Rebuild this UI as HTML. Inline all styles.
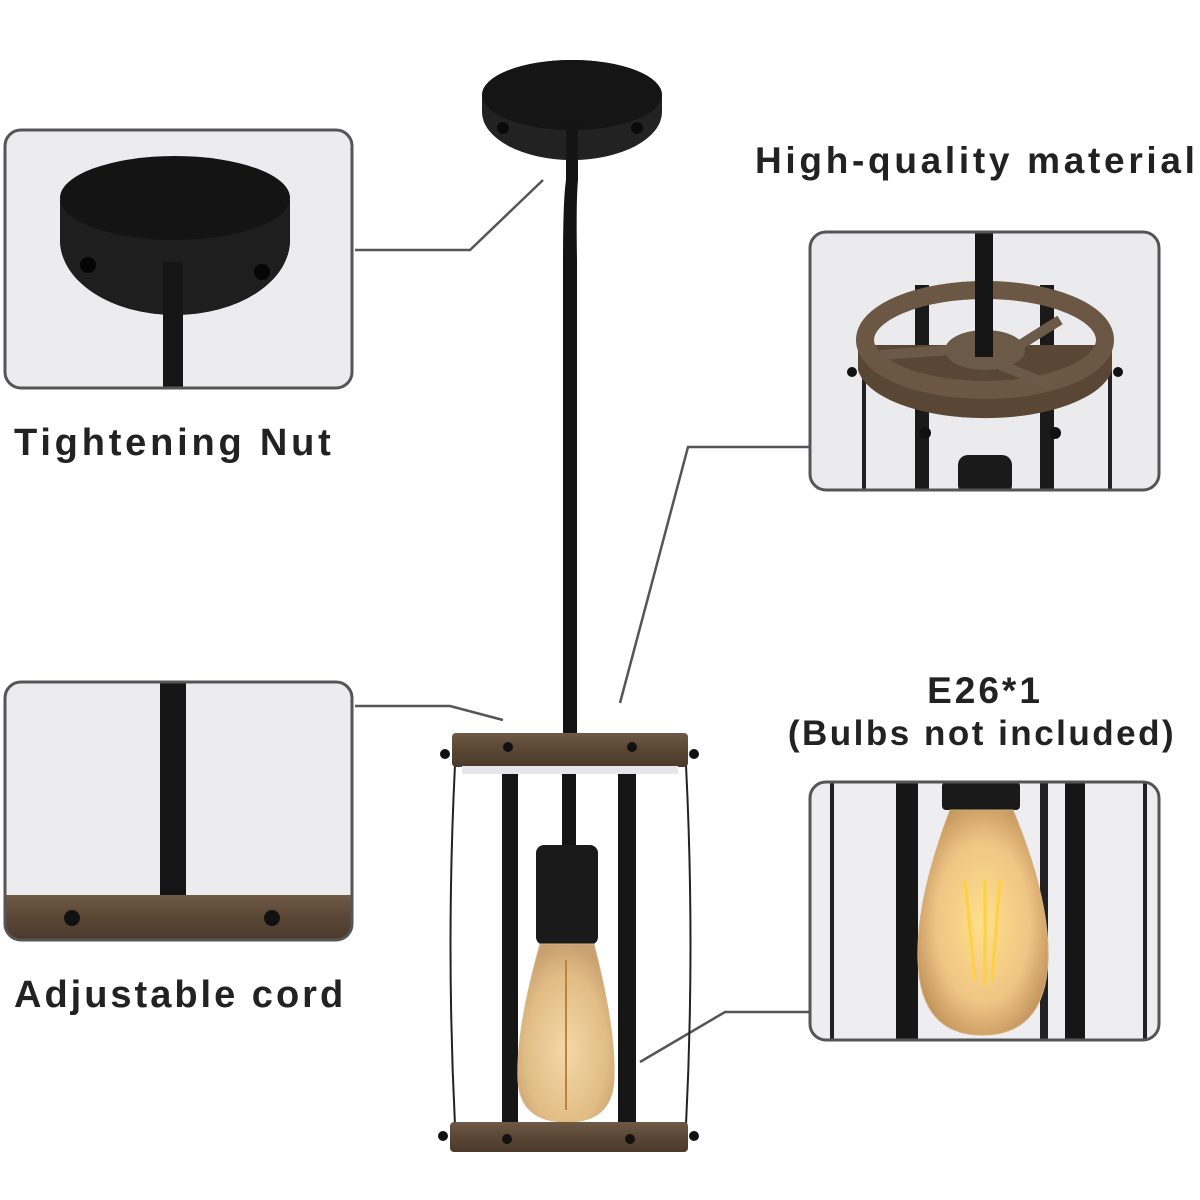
<!DOCTYPE html>
<html><head><meta charset="utf-8"><style>
html,body{margin:0;padding:0;background:#fff;}
svg{display:block;}
text{font-family:"Liberation Sans",sans-serif;font-weight:bold;fill:#222;}
</style></head><body>
<svg width="1200" height="1200" viewBox="0 0 1200 1200" xmlns="http://www.w3.org/2000/svg">
<defs>
<linearGradient id="wood" x1="0" y1="0" x2="0" y2="1">
<stop offset="0" stop-color="#6e5a45"/><stop offset="0.5" stop-color="#5a4634"/><stop offset="1" stop-color="#4a3a2c"/>
</linearGradient>
<radialGradient id="bulb" cx="0.5" cy="0.6" r="0.6">
<stop offset="0" stop-color="#f3d9a8"/><stop offset="0.7" stop-color="#e2bd85"/><stop offset="1" stop-color="#c9a070"/>
</radialGradient>
<radialGradient id="bulb2" cx="0.5" cy="0.5" r="0.6">
<stop offset="0" stop-color="#ffe08a"/><stop offset="0.6" stop-color="#efc585"/><stop offset="1" stop-color="#b98a55"/>
</radialGradient>
<clipPath id="c1"><rect x="5" y="130" width="347" height="258" rx="16"/></clipPath>
<clipPath id="c2"><rect x="5" y="682" width="347" height="258" rx="16"/></clipPath>
<clipPath id="c3"><rect x="810" y="232" width="349" height="258" rx="16"/></clipPath>
<clipPath id="c4"><rect x="810" y="782" width="349" height="258" rx="16"/></clipPath>
</defs>

<g stroke="#555" stroke-width="2.5" fill="none">
<polyline points="355,250 470,250 543,180"/>
<polyline points="355,706 450,706 503,720"/>
<polyline points="810,447 688,447 620,703"/>
<polyline points="810,1012 725,1012 640,1062"/>
</g>

<g>
<path d="M482,95 A90,35 0 0 1 662,95 L662,112 A90,48 0 0 1 482,112 Z" fill="#222"/>
<ellipse cx="572" cy="95" rx="90" ry="35" fill="#151515"/>
<circle cx="503" cy="128" r="6" fill="#0a0a0a"/><circle cx="637" cy="128" r="6" fill="#0a0a0a"/>
<path d="M566,120 L578,120 L578,180 Q576,200 577,260 L577,735 L563,735 L563,260 Q563,200 566,180 Z" fill="#141414"/>
<path d="M455,765 Q446,945 455,1125" stroke="#222" stroke-width="2" fill="none"/>
<path d="M686,765 Q695,945 686,1125" stroke="#222" stroke-width="2" fill="none"/>
<rect x="502" y="765" width="16" height="358" fill="#161616"/>
<rect x="618" y="765" width="18" height="358" fill="#161616"/>
<rect x="562" y="765" width="14" height="82" fill="#141414"/>
<rect x="536" y="845" width="62" height="100" rx="8" fill="#1a1a1a"/>
<path d="M540,944 L594,944 Q616,1030 614,1080 Q612,1122 567,1122 Q520,1122 518,1080 Q516,1030 540,944 Z" fill="url(#bulb)" stroke="#d8b888" stroke-width="1"/>
<path d="M566,960 L566,1110" stroke="#c08040" stroke-width="2"/>
<rect x="452" y="733" width="236" height="34" rx="4" fill="url(#wood)"/>
<rect x="462" y="766" width="216" height="8" fill="#e6e6ea"/>
<circle cx="508" cy="747" r="5" fill="#111"/><circle cx="632" cy="747" r="5" fill="#111"/>
<circle cx="445" cy="754" r="5" fill="#111"/><circle cx="694" cy="754" r="5" fill="#111"/>
<rect x="450" y="1122" width="238" height="30" rx="4" fill="url(#wood)"/>
<circle cx="507" cy="1139" r="5" fill="#111"/><circle cx="630" cy="1139" r="5" fill="#111"/>
<circle cx="443" cy="1136" r="5" fill="#111"/><circle cx="694" cy="1136" r="5" fill="#111"/>
</g>

<g clip-path="url(#c1)">
<rect x="5" y="130" width="347" height="258" fill="#ececef"/>
<path d="M60,200 L60,240 A115,75 0 0 0 290,240 L290,200 Z" fill="#1e1e1e"/>
<ellipse cx="175" cy="240" rx="115" ry="75" fill="#1e1e1e"/>
<ellipse cx="175" cy="198" rx="115" ry="42" fill="#141414"/>
<rect x="163" y="262" width="20" height="130" fill="#151515"/>
<circle cx="88" cy="265" r="8" fill="#050505"/><circle cx="262" cy="272" r="8" fill="#050505"/>
</g>
<rect x="5" y="130" width="347" height="258" rx="16" fill="none" stroke="#555" stroke-width="3"/>

<g clip-path="url(#c2)">
<rect x="5" y="682" width="347" height="258" fill="#ececef"/>
<rect x="160" y="682" width="26" height="215" fill="#151515"/>
<rect x="5" y="895" width="347" height="45" fill="url(#wood)"/>
<circle cx="72" cy="918" r="8" fill="#111"/><circle cx="272" cy="918" r="8" fill="#111"/>
</g>
<rect x="5" y="682" width="347" height="258" rx="16" fill="none" stroke="#555" stroke-width="3"/>

<g clip-path="url(#c3)">
<rect x="810" y="232" width="349" height="258" fill="#ebebee"/>
<rect x="862" y="370" width="4" height="125" fill="#222"/>
<rect x="1108" y="370" width="4" height="125" fill="#222"/>
<rect x="915" y="285" width="14" height="210" fill="#1a1a1a"/>
<rect x="1040" y="285" width="14" height="210" fill="#1a1a1a"/>
<rect x="958" y="455" width="54" height="40" rx="10" fill="#1a1a1a"/>
<path d="M858,345 L858,370 A128,55 0 0 0 1112,370 L1112,345 Z" fill="#5a4634"/>
<ellipse cx="985" cy="340" rx="120" ry="50" fill="none" stroke="#6b5743" stroke-width="18"/>
<ellipse cx="985" cy="350" rx="40" ry="20" fill="#6b5a48"/>
<path d="M880,355 L950,350 M1020,345 L1060,320 M1000,365 L1050,385" stroke="#6b5a48" stroke-width="10"/>
<rect x="975" y="232" width="18" height="125" fill="#151515"/>
<circle cx="925" cy="433" r="6" fill="#111"/><circle cx="1055" cy="433" r="6" fill="#111"/>
<circle cx="852" cy="372" r="5" fill="#111"/><circle cx="1118" cy="372" r="5" fill="#111"/>
</g>
<rect x="810" y="232" width="349" height="258" rx="16" fill="none" stroke="#555" stroke-width="3"/>

<g clip-path="url(#c4)">
<rect x="810" y="782" width="349" height="258" fill="#eeeef0"/>
<rect x="830" y="782" width="4" height="258" fill="#222"/>
<rect x="1143" y="782" width="4" height="258" fill="#222"/>
<rect x="896" y="782" width="22" height="258" fill="#161616"/>
<rect x="1040" y="782" width="8" height="258" fill="#222"/>
<rect x="1065" y="782" width="20" height="258" fill="#161616"/>
<rect x="942" y="782" width="78" height="28" rx="4" fill="#1a1a1a"/>
<path d="M950,810 L1013,810 Q1050,900 1048,960 Q1045,1035 982,1035 Q920,1035 918,960 Q916,900 950,810 Z" fill="url(#bulb2)" stroke="#d4b07a" stroke-width="1"/>
<path d="M965,880 L975,980 M985,880 L985,985 M1000,880 L992,980" stroke="#ffd040" stroke-width="3"/>
</g>
<rect x="810" y="782" width="349" height="258" rx="16" fill="none" stroke="#555" stroke-width="3"/>

<text x="14" y="455" font-size="38" letter-spacing="3.8">Tightening Nut</text>
<text x="14" y="1007" font-size="38" letter-spacing="3">Adjustable cord</text>
<text x="755" y="173" font-size="37" letter-spacing="3.7">High-quality material</text>
<text x="985" y="703" font-size="37" letter-spacing="3" text-anchor="middle">E26*1</text>
<text x="982" y="745" font-size="35" letter-spacing="2.5" text-anchor="middle">(Bulbs not included)</text>
</svg>
</body></html>
